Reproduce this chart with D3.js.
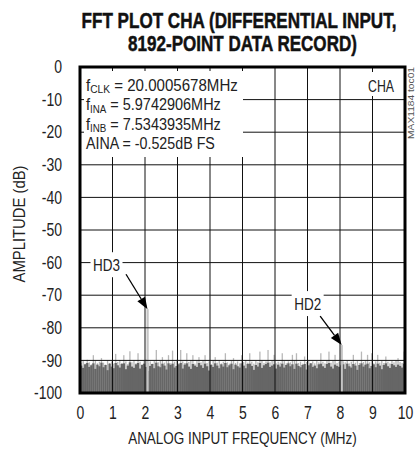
<!DOCTYPE html>
<html><head><meta charset="utf-8">
<script src="https://cdn.jsdelivr.net/npm/d3@7/dist/d3.min.js"></script>
<style>
html,body{margin:0;padding:0;background:#fff;}
svg{display:block;}
</style></head>
<body>
<svg id="chart" width="415" height="453"></svg>
<script>
// ---------- data ----------
const titleLines = ["FFT PLOT CHA (DIFFERENTIAL INPUT,", "8192-POINT DATA RECORD)"];
const xLabel = "ANALOG INPUT FREQUENCY (MHz)";
const yLabel = "AMPLITUDE (dB)";
const xTicks = [0,1,2,3,4,5,6,7,8,9,10];
const yTicks = [0,-10,-20,-30,-40,-50,-60,-70,-80,-90,-100];
const infoLines = [
  [["f",""],["CLK","sub"],[" = 20.0005678MHz",""]],
  [["f",""],["INA","sub"],[" = 5.9742906MHz",""]],
  [["f",""],["INB","sub"],[" = 7.5343935MHz",""]],
  [["AINA = -0.525dB FS",""]]
];
const channelLabel = "CHA";
const sideNote = "MAX1184 toc01";
const harmLabels = ["HD3","HD2"];
const harmFreq = [2.077, 8.051];
const harmDb = [-74.3, -85.3];
const binWidthMHz = 0.0625; // 160 display bins over 0..10 MHz
const noisePeakDb = [
-90.8,-90.2,-91.0,-89.8,-90.6,-91.2,-88.4,-90.1,-90.9,-90.4,
-89.3,-90.7,-91.3,-90.0,-90.8,-90.3,-91.0,-88.0,-90.5,-89.9,
-90.8,-88.4,-90.3,-91.1,-87.2,-90.6,-90.0,-90.9,-87.8,-90.4,
-91.2,-90.1,-89.7,-90.8,-90.3,-91.0,-90.2,-86.8,-90.6,-90.0,
-89.0,-90.7,-90.2,-88.4,-90.9,-87.0,-90.4,-89.8,-90.9,-86.8,
-90.3,-90.8,-87.8,-90.5,-90.0,-88.4,-91.0,-90.2,-89.0,-90.6,
-90.1,-88.4,-90.8,-90.3,-91.1,-90.0,-89.0,-90.7,-90.2,-90.9,
-90.4,-87.8,-90.6,-91.0,-90.1,-89.3,-90.8,-90.3,-90.9,-88.4,
-90.5,-90.0,-90.7,-87.8,-90.4,-91.0,-90.2,-90.6,-87.3,-90.1,
-90.8,-90.3,-86.8,-90.6,-90.0,-88.3,-90.9,-90.4,-90.7,-87.8,
-90.2,-90.9,-90.3,-90.6,-88.3,-90.1,-87.8,-90.8,-90.4,-91.0,
-88.8,-90.5,-90.1,-90.8,-90.3,-90.9,-90.2,-90.6,-87.8,-90.4,
-90.9,-90.1,-87.3,-90.7,-90.2,-88.3,-90.8,-90.4,-91.0,-90.3,
-90.6,-90.1,-90.9,-90.4,-88.3,-90.7,-90.2,-90.8,-87.3,-90.5,
-90.0,-88.3,-90.6,-87.8,-90.9,-90.3,-88.3,-90.7,-90.1,-90.8,
-88.8,-90.4,-90.9,-90.2,-90.6,-90.0,-89.3,-90.5,-90.8,-87.3
];
const noiseBodyDb = [
-91.6,-92.3,-91.2,-90.8,-92.0,-91.5,-90.9,-92.6,-91.3,-91.8,
-90.7,-92.1,-91.4,-93.0,-91.0,-91.9,-92.4,-90.8,-91.5,-92.2,
-91.1,-90.9,-92.7,-91.6,-90.6,-91.9,-92.3,-91.2,-90.8,-92.5,
-91.4,-91.0,-92.0,-93.2,-91.7,-91.1,-92.4,-90.7,-91.8,-92.1,
-91.0,-91.6,-92.8,-90.9,-91.4,-91.0,-92.2,-91.7,-91.2,-90.8,
-92.5,-91.3,-90.9,-91.9,-92.6,-91.1,-91.6,-92.0,-90.8,-91.5,
-92.3,-91.0,-91.8,-93.1,-91.4,-92.0,-90.9,-91.6,-92.4,-91.2,
-91.9,-90.8,-92.1,-91.5,-91.0,-92.7,-91.3,-91.8,-92.2,-90.9,
-91.6,-92.4,-91.1,-91.0,-91.7,-92.9,-91.4,-91.9,-90.8,-92.3,
-91.5,-91.1,-90.7,-92.0,-91.6,-91.2,-92.5,-91.3,-91.9,-91.0,
-92.2,-91.4,-90.9,-91.8,-91.2,-92.6,-91.0,-91.7,-92.1,-91.4,
-91.1,-92.8,-91.5,-90.9,-92.0,-91.6,-92.4,-91.2,-91.0,-91.8,
-92.3,-91.1,-90.8,-91.9,-92.5,-91.3,-91.7,-92.0,-91.5,-91.2,
-92.6,-91.0,-91.8,-92.2,-91.1,-91.6,-92.9,-91.4,-90.9,-91.9,
-91.3,-91.0,-92.4,-91.7,-91.2,-92.1,-91.0,-91.6,-92.7,-91.4,
-90.9,-91.8,-92.3,-91.1,-91.5,-92.0,-91.3,-91.7,-92.2,-91.0
];

// ---------- layout ----------
const FONT = "'Liberation Sans Narrow','Arial Narrow','Liberation Sans',Arial,sans-serif";
const INK = "#222";
const svg = d3.select("#chart");
const L = 80, R = 405, T = 67, B = 393;
const x = d3.scaleLinear().domain([0,10]).range([L,R]);
const y = d3.scaleLinear().domain([-100,0]).range([B,T]);

// condense a text element horizontally (reference uses a condensed face)
function squeeze(el, f){
  const xa = +(el.getAttribute("x")||0);
  el.setAttribute("x", xa/f);
  const tr = el.getAttribute("transform")||"";
  el.setAttribute("transform", (tr+" scale("+f+",1)").trim());
}
function squeezeTo(el, w){ squeeze(el, w/el.getComputedTextLength()); }

// noise floor
const gNoise = svg.append("g");
const bw = x(binWidthMHz) - x(0);
gNoise.selectAll("rect.peak").data(noisePeakDb).join("rect")
  .attr("x",(d,i)=>x(i*binWidthMHz)+bw*0.25).attr("width",1.3)
  .attr("y",d=>y(d)).attr("height",(d,i)=>Math.max(0,y(noiseBodyDb[i])-y(d)+1))
  .attr("fill","#b8b8b8");
gNoise.selectAll("rect.body").data(noiseBodyDb).join("rect")
  .attr("x",(d,i)=>x(i*binWidthMHz)).attr("width",bw+0.3)
  .attr("y",d=>y(d)).attr("height",d=>y(-100)-y(d))
  .attr("fill","#666");

// harmonics
svg.append("g").selectAll("rect").data(harmFreq).join("rect")
  .attr("x",d=>x(d)-1).attr("width",2.2)
  .attr("y",(d,i)=>y(harmDb[i])).attr("height",(d,i)=>y(-100)-y(harmDb[i]))
  .attr("fill","#c4c4c4");

// grid
const grid = svg.append("g").attr("stroke","#111").attr("stroke-width",1);
grid.selectAll("line.v").data(xTicks.slice(1,-1)).join("line")
  .attr("x1",d=>x(d)).attr("x2",d=>x(d)).attr("y1",T).attr("y2",B);
grid.selectAll("line.h").data(yTicks.slice(1,-1)).join("line")
  .attr("y1",d=>y(d)).attr("y2",d=>y(d)).attr("x1",L).attr("x2",R);

// white boxes
svg.append("rect").attr("x",84).attr("y",71).attr("width",159).attr("height",86).attr("fill","#fff");
svg.append("rect").attr("x",364).attr("y",72).attr("width",34).attr("height",24).attr("fill","#fff");

// info text
const info = svg.append("g").attr("font-family",FONT).attr("fill",INK);
const infoLen = [152,135,135,129];
infoLines.forEach((parts,li)=>{
  const t = info.append("text").attr("x",86).attr("y",91+li*19.5).attr("font-size",17);
  parts.forEach(([s,k])=>{
    if(k==="sub") t.append("tspan").attr("font-size",11.5).attr("dy",2.5).text(s);
    else t.append("tspan").attr("dy", parts.length>1 && s!=="f" ? -2.5 : 0).text(s);
  });
  squeezeTo(t.node(), infoLen[li]);
});
const cha = info.append("text").attr("x",394).attr("y",92).attr("text-anchor","end")
  .attr("font-size",17).text(channelLabel);
squeezeTo(cha.node(), 26);

// harmonic labels + arrows
const labOff = [[-41,-45],[-34,-42]];
const arrOff = [[-21.5,-35],[-21.5,-29]];
harmFreq.forEach((f,i)=>{
  const tx = x(f), ty = y(harmDb[i]);
  const cx = tx+labOff[i][0], cy = ty+labOff[i][1];
  svg.append("rect").attr("x",cx-16).attr("y",cy-12).attr("width",32).attr("height",25).attr("fill","#fff");
  const lt = svg.append("text").attr("x",cx).attr("y",cy+6.5).attr("text-anchor","middle")
    .attr("font-family",FONT).attr("font-size",17).attr("fill",INK).text(harmLabels[i]);
  squeezeTo(lt.node(), 27);
  const sx = tx+arrOff[i][0], sy = ty+arrOff[i][1];
  const ang = Math.atan2(ty-sy, tx-sx), hl = 12, hw = 4.5;
  const bx = tx-hl*Math.cos(ang), by = ty-hl*Math.sin(ang);
  svg.append("line").attr("x1",sx).attr("y1",sy).attr("x2",bx).attr("y2",by)
    .attr("stroke","#000").attr("stroke-width",1.3);
  svg.append("path").attr("d",`M${tx},${ty}L${bx-hw*Math.sin(ang)},${by+hw*Math.cos(ang)}L${bx+hw*Math.sin(ang)},${by-hw*Math.cos(ang)}Z`)
    .attr("fill","#000");
});

// frame
svg.append("rect").attr("x",L).attr("y",T).attr("width",R-L).attr("height",B-T)
  .attr("fill","none").attr("stroke","#000").attr("stroke-width",3);

// axes (labels only)
const fmt = d => String(d);
const ax = svg.append("g").attr("transform",`translate(0,${B})`)
  .call(d3.axisBottom(x).tickValues(xTicks).tickSize(0).tickPadding(14).tickFormat(fmt));
const ay = svg.append("g").attr("transform",`translate(${L},0)`)
  .call(d3.axisLeft(y).tickValues(yTicks).tickSize(0).tickPadding(18).tickFormat(fmt));
[ax,ay].forEach(a=>{
  a.select(".domain").remove();
  a.selectAll("text").attr("font-family",FONT).attr("font-size",17.5).attr("fill",INK)
    .each(function(){ squeeze(this, 0.8); });
});

// axis titles
const xt = svg.append("text").attr("x",242.5).attr("y",444).attr("text-anchor","middle")
  .attr("font-family",FONT).attr("font-size",17).attr("fill",INK).text(xLabel);
squeezeTo(xt.node(), 229);
const yt = svg.append("text").attr("transform","translate(25,224) rotate(-90)").attr("text-anchor","middle")
  .attr("font-family",FONT).attr("font-size",17).attr("fill",INK).text(yLabel);
squeezeTo(yt.node(), 117);

// title
const tLen = [315,229], tX = [239,242.5], tY = [28,51];
titleLines.forEach((s,i)=>{
  const tt = svg.append("text").attr("x",tX[i]).attr("y",tY[i]).attr("text-anchor","middle")
    .attr("font-family",FONT).attr("font-weight","bold").attr("font-size",22).attr("fill","#111")
    .attr("stroke","#111").attr("stroke-width",0.5).text(s);
  squeezeTo(tt.node(), tLen[i]);
});

// side note
const sn = svg.append("text").attr("transform","translate(414,67) rotate(-90)").attr("text-anchor","end")
  .attr("font-family",FONT).attr("font-size",8.5).attr("fill","#555").text(sideNote);
squeezeTo(sn.node(), 72);
</script>
</body></html>
